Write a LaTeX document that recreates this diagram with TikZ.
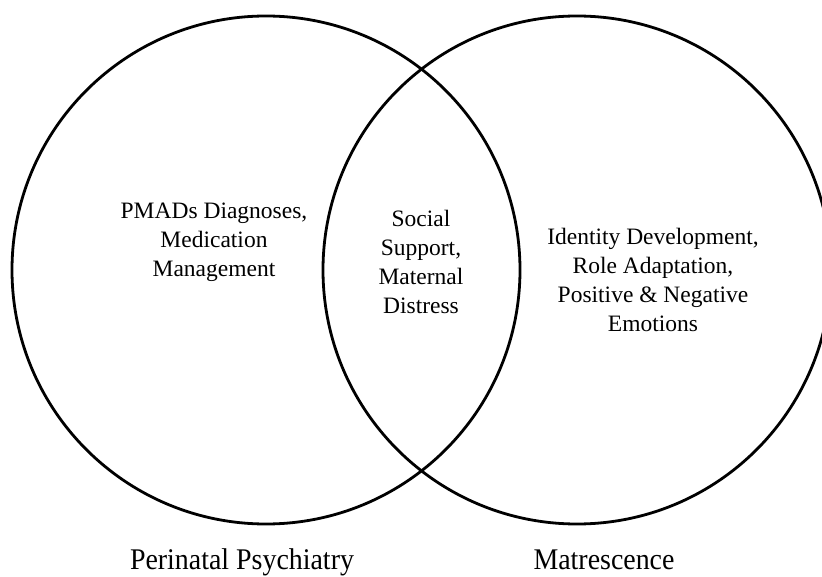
\documentclass[tikz,border=0pt]{standalone}
\usepackage{fontspec}
\setmainfont{Liberation Serif}
\usetikzlibrary{positioning}
\tikzset{set/.style={draw=black, circle, line width=2.8pt, inner sep=0pt, minimum size=508pt},
         inner/.style={align=center, font=\fontsize{23.5}{29}\selectfont},
         setname/.style={anchor=base, xscale=0.93, font=\fontsize{30}{32}\selectfont}}

\begin{document}
\begin{tikzpicture}[x=1pt,y=-1pt]
\clip (0,0) rectangle (822,577);
\useasboundingbox (0,0) rectangle (822,577);

\node[set] (psych) at (266,270) {};
\node[set] (matr) at (577,270) {};

\node[inner] (pmads) at (214,242) {PMADs Diagnoses,\\ Medication\\ Management};
\node[inner] (social) at (421,262) {Social\\ Support,\\ Maternal\\ Distress};
\node[inner] (identity) at (653,280) {Identity Development,\\ Role Adaptation,\\ Positive \& Negative\\ Emotions};

\node[setname] (psychname) at (242,569) {Perinatal Psychiatry};
\node[setname] (matrname) at (604,569) {Matrescence};
\end{tikzpicture}
\end{document}
